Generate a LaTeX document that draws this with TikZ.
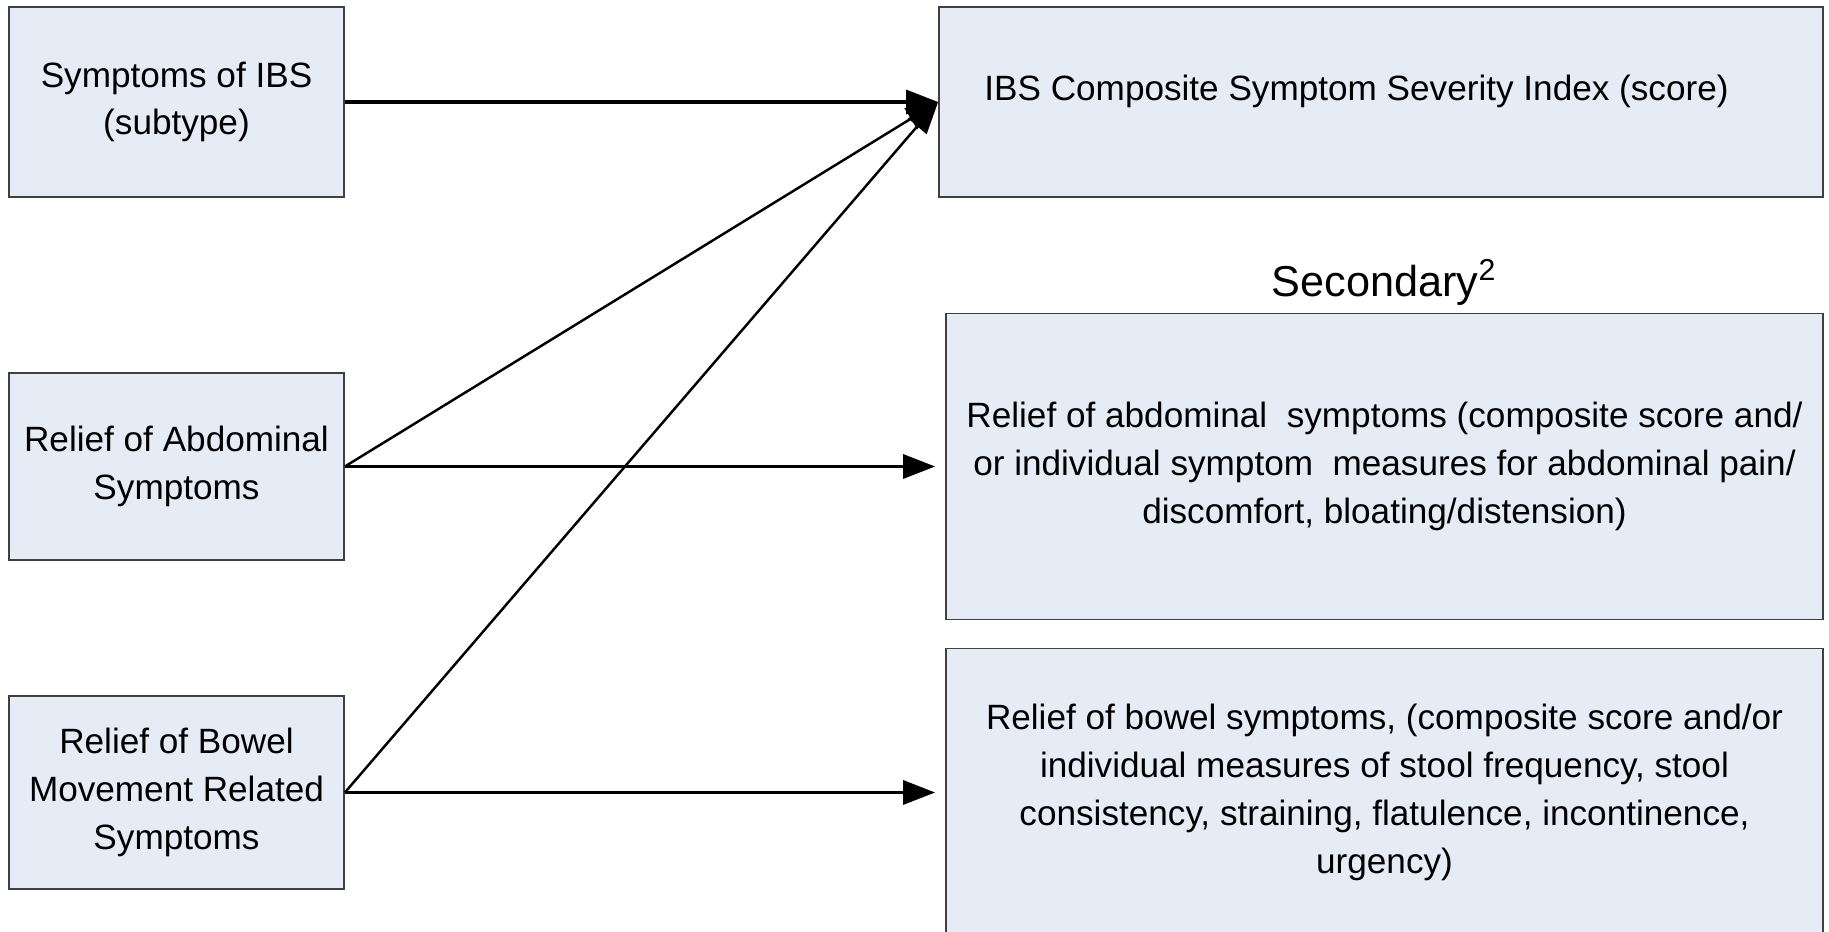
\documentclass[tikz,border=0pt]{standalone}
\usepackage{fontspec}
\setmainfont{Liberation Sans}
\usetikzlibrary{positioning, arrows.meta}
\definecolor{boxfill}{RGB}{230,236,246}
\definecolor{boxline}{RGB}{64,64,64}

\begin{document}
\begin{tikzpicture}[
			node distance=2cm,
			on grid,
			font=\fontsize{10}{13.6}\selectfont,
			factor/.style={
				draw=boxline,
				fill=boxfill,
				line width=0.5pt,
				align=center,
				minimum width=3.35cm,
				inner sep=0pt
			},
			outcome/.style={
				draw=boxline,
				fill=boxfill,
				line width=0.5pt,
				align=center,
				minimum width=8.77cm,
				inner sep=0pt
			},
			every edge/.style={
				draw=black,
				-{Triangle[length=0.32cm,width=0.24cm]},
				line width=0.9pt
			}
			]
			\useasboundingbox (0,0) rectangle (18.29,9.32);
			
			% Factors
			\node[factor, minimum height=1.90cm] (sym) at (1.765,8.30) {Symptoms of IBS\\(subtype)};
			\node[factor, minimum height=1.87cm] (abd) [below=3.645 of sym] {Relief of Abdominal\\Symptoms};
			\node[factor, minimum height=1.93cm] (bow) [below=3.26 of abd] {Relief of Bowel\\Movement Related\\Symptoms};
			
			% Outcomes
			\node[outcome, minimum width=8.84cm, minimum height=1.90cm] (csi) [right=12.045 of sym] {};
			\node[anchor=west] (csitext) at (9.72,8.41) {IBS Composite Symptom Severity Index (score)};
			\node[outcome, minimum height=3.06cm] (secabd) [right=12.08 of abd] {Relief of abdominal~ symptoms (composite score and/\\or individual symptom~ measures for abdominal pain/\\discomfort, bloating/distension)};
			\node[outcome, minimum height=2.88cm] (secbow) [right=12.08 of bow] {Relief of bowel symptoms, (composite score and/or\\individual measures of stool frequency, stool\\consistency, straining, flatulence, incontinence,\\urgency)};
			\node[font=\fontsize{12.3}{15}\selectfont] (sec) [above=1.84 of secabd] {Secondary\textsuperscript{2}};
			
			% Links
			\path
			(sym.east) edge (csi.west)
			(abd.east) edge [line width=0.7pt] (csi.west)
			(bow.east) edge [line width=0.7pt] (csi.west)
			(abd.east) edge [shorten >=0.1cm] (secabd.west)
			(bow.east) edge [shorten >=0.1cm] (secbow.west);
		\end{tikzpicture}
\end{document}
